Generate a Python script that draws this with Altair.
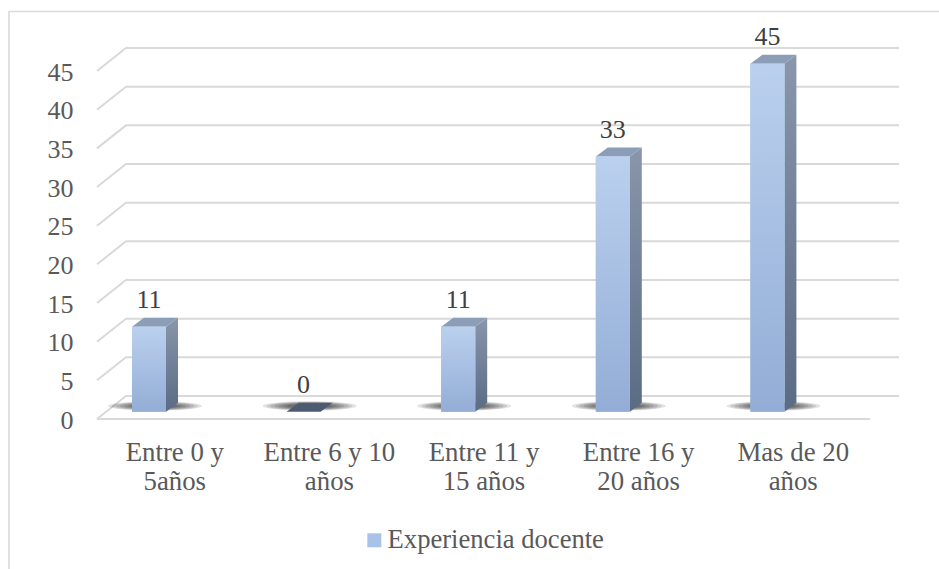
import json
import altair as alt
import pandas as pd

# ---- data ----
ETIQUETAS = [["Entre 0 y", "5años"], ["Entre 6 y 10", "años"], ["Entre 11 y", "15 años"],
             ["Entre 16 y", "20 años"], ["Mas de 20", "años"]]
VALORES = [11, 0, 11, 33, 45]
MARCAS_Y = [0, 5, 10, 15, 20, 25, 30, 35, 40, 45]
SERIE = "Experiencia docente"

# ---- layout (pixels) ----
W, H = 939, 569
X0, Y0 = 97, 419          # front-left corner of the floor
PASO = 154.6              # width of one category on the floor
PX_V = 7.733              # pixels per y unit
FONDO_DX, FONDO_DY = 29, 23   # depth of the back wall
BARRA_CX = 52             # bar centre inside its category
BARRA_MEDIO = 17          # half width of the bar face
BARRA_ELEV = 7.3          # bar base above the front floor edge
BARRA_DX, BARRA_DY = 12, 9    # bar depth
SOMBRA_DX, SOMBRA_Y = 6, 406

FUENTE = "Liberation Serif, Times New Roman, Times, DejaVu Serif, serif"
GRIS_TEXTO = "#595959"
GRIS_LINEA = "#D9D9D9"


def du(px):
    return px / PASO


def dv(px):
    return px / PX_V


n = len(VALORES)
X_DOM = [-X0 / PASO, (W - X0) / PASO]
Y_DOM = [-(H - Y0) / PX_V, Y0 / PX_V]

EJE_X = alt.Axis(
    values=[i + 0.5 for i in range(n)],
    labelExpr=json.dumps(ETIQUETAS, ensure_ascii=False) + "[floor(datum.value)]",
    orient="bottom", offset=-(H - Y0), domain=False, ticks=False, tickSize=0, grid=False,
    labelPadding=41, labelBaseline="alphabetic", labelAlign="center", labelAngle=0,
    labelFont=FUENTE, labelFontSize=26.8, labelColor=GRIS_TEXTO, labelLineHeight=29,
    labelFlush=False, labelOverlap=False, labelLimit=0, title=None,
)
EJE_Y = alt.Axis(
    values=MARCAS_Y, orient="left", offset=-73, domain=False, ticks=False, tickSize=0,
    grid=False, labelPadding=0, labelAlign="right", labelBaseline="middle", labelOffset=1,
    labelFont=FUENTE, labelFontSize=26, labelColor=GRIS_TEXTO,
    labelFlush=False, labelOverlap=False, title=None,
)


def X(campo="u"):
    return alt.X(f"{campo}:Q", scale=alt.Scale(domain=X_DOM, nice=False, zero=False), axis=EJE_X)


def Y(campo="v"):
    return alt.Y(f"{campo}:Q", scale=alt.Scale(domain=Y_DOM, nice=False, zero=False), axis=EJE_Y)


def degradado(arriba, abajo):
    return alt.Gradient(gradient="linear", x1=0, x2=0, y1=0, y2=1,
                        stops=[alt.GradientStop(color=arriba, offset=0),
                               alt.GradientStop(color=abajo, offset=1)])


# ---- tables ----
rejilla = []
for m in MARCAS_Y:
    rejilla += [
        {"nivel": m, "orden": 0, "u": 0, "v": m},
        {"nivel": m, "orden": 1, "u": du(FONDO_DX), "v": m + dv(FONDO_DY)},
        {"nivel": m, "orden": 2, "u": n + du(FONDO_DX), "v": m + dv(FONDO_DY)},
    ]
df_rejilla = pd.DataFrame(rejilla)
df_piso = pd.DataFrame({"nivel": [0, 0], "orden": [0, 1], "u": [0, n], "v": [0, 0]})

barras = []
lados = []
tapas = []
for i, val in enumerate(VALORES):
    uc = i + du(BARRA_CX)
    ul, ur = uc - du(BARRA_MEDIO), uc + du(BARRA_MEDIO)
    vb = dv(BARRA_ELEV)
    vt = val + vb
    bu, bv = du(BARRA_DX), dv(BARRA_DY)
    barras.append({"i": i, "valor": val, "serie": SERIE, "u": ul, "u2": ur, "v": vb, "v2": vt,
                   "uc": uc, "us": uc + du(SOMBRA_DX), "vs": dv(Y0 - SOMBRA_Y)})
    # side face: polygon corners in drawing order
    for k, (pu, pv) in enumerate([(ur, vb), (ur, vt), (ur + bu, vt + bv), (ur + bu, vb + bv)]):
        lados.append({"i": i, "valor": val, "orden": k, "u": pu, "v": pv})
    # top face
    for k, (pu, pv) in enumerate([(ul, vt), (ur, vt), (ur + bu, vt + bv), (ul + bu, vt + bv)]):
        tapas.append({"i": i, "valor": val, "orden": k, "u": pu, "v": pv})
df_barras = pd.DataFrame(barras)
df_lados = pd.DataFrame(lados)
df_tapas = pd.DataFrame(tapas)

# ---- layers ----
uno = pd.DataFrame({"k": [0]})
marco_izq = alt.Chart(uno).mark_rule(color=GRIS_LINEA, strokeWidth=1.6).encode(
    x=alt.value(9), y=alt.value(11), y2=alt.value(H))
marco_sup = alt.Chart(uno).mark_rule(color=GRIS_LINEA, strokeWidth=1.6).encode(
    x=alt.value(9), x2=alt.value(W), y=alt.value(11.5))

lineas = alt.Chart(df_rejilla).mark_line(color=GRIS_LINEA, strokeWidth=2).encode(
    x=X(), y=Y(), detail="nivel:N", order="orden:Q")
piso = alt.Chart(df_piso).mark_line(color=GRIS_LINEA, strokeWidth=2).encode(
    x=X(), y=Y(), detail="nivel:N", order="orden:Q")

ELIPSE = "M -1 0 A 1 0.1 0 1 1 1 0 A 1 0.1 0 1 1 -1 0 Z"
sombras = [
    alt.Chart(df_barras).mark_point(shape=ELIPSE, filled=True, color="#000000",
                                    opacity=0.11, size=tam * tam, strokeWidth=0)
    .encode(x=X("us"), y=Y("vs"))
    for tam in [94, 86, 78, 70, 62, 54, 46]
]

lado = alt.Chart(df_lados).mark_line(
    filled=True, fill=degradado("#8996AB", "#5A6B84"), strokeWidth=0, interpolate="linear"
).encode(x=X(), y=Y(), detail="i:N", order="orden:Q")

tapa = alt.Chart(df_tapas).mark_line(filled=True, strokeWidth=0, interpolate="linear").encode(
    x=X(), y=Y(), detail="i:N", order="orden:Q",
    fill=alt.condition(alt.datum.valor == 0, alt.value("#4C5B72"), alt.value("#8B9DB7")))

frente = alt.Chart(df_barras).mark_bar().encode(
    x=X(), x2="u2:Q", y=Y(), y2="v2:Q",
    color=alt.Color("serie:N", scale=alt.Scale(domain=[SERIE], range=["#A9C3E8"]),
                    legend=alt.Legend(orient="none", legendX=361, legendY=527, title=None,
                                      padding=0, symbolType="square", symbolSize=196,
                                      symbolStrokeWidth=0, labelFont=FUENTE, labelFontSize=26.6,
                                      labelColor=GRIS_TEXTO, labelOffset=0, labelLimit=0)))
frente_luz = alt.Chart(df_barras).mark_bar(fill=degradado("#BAD0EE", "#93ADD6")).encode(
    x=X(), x2="u2:Q", y=Y(), y2="v2:Q")

rotulos = alt.Chart(df_barras).mark_text(
    font=FUENTE, fontSize=26, color="#404040", baseline="alphabetic", align="center", dy=-19
).encode(x=X("uc"), y=Y("v2"), text="valor:Q")

chart = alt.layer(
    lineas, piso, *sombras, lado, tapa, frente, frente_luz, rotulos, marco_izq, marco_sup
).properties(
    width=W, height=H, autosize=alt.AutoSizeParams(type="none"), padding=0,
    background="white",
).configure_view(stroke=None)

chart.save("out.html", embed_options={"renderer": "svg", "actions": False})
